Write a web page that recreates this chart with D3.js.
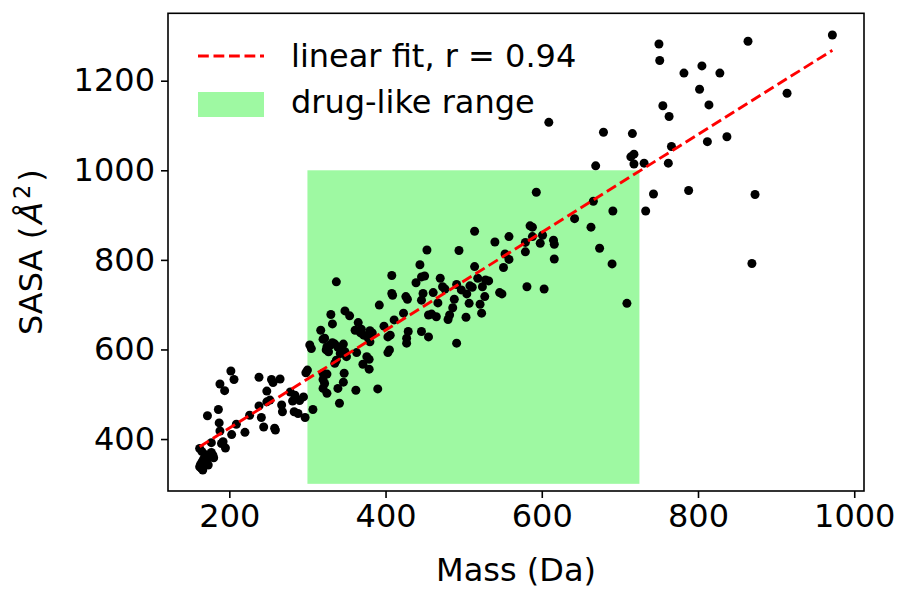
<!DOCTYPE html>
<html>
<head>
<meta charset="utf-8">
<script src="https://cdn.jsdelivr.net/npm/d3@7"></script>
<style>
  body { margin: 0; background: #fff; }
  svg text { font-family: "DejaVu Sans", sans-serif; fill: #000; }
</style>
</head>
<body>
<svg width="899" height="592"></svg>
<script>
// molecules: mass (Da) and solvent accessible surface area
const mass = [
  750, 751, 864, 972, 782, 805, 828, 802, 755, 763, 814, 914, 837, 812, 766, 731, 762, 788, 743, 873, 733, 869,
  609, 679, 716, 714, 718, 718, 669, 593, 666, 691, 642, 663, 601, 598, 615, 616, 674, 616, 690, 603, 709,
  585, 588, 588, 579, 581, 514, 558, 540, 579, 453, 494, 553, 558, 551, 514, 518, 528, 532, 524, 527, 508, 511,
  504, 497, 491, 470, 450, 446, 444, 473, 476, 461, 448, 446, 488, 486, 507, 521, 523, 503, 482, 480, 467, 455,
  459, 465, 455, 446, 491, 546, 549,
  337, 408, 439, 408, 409, 426, 428, 392, 423, 411, 398, 406, 403, 429, 427, 427, 348, 354, 330, 332, 365, 361,
  369, 368, 372, 380, 383, 378, 380, 317, 320, 322, 303, 305, 325, 329, 332, 335, 324, 327, 339, 344, 346, 342,
  348, 350, 337, 335, 363, 376, 379, 371, 379, 405, 403, 300, 298, 320, 325, 320, 322, 320, 325, 347, 346, 339,
  341, 362, 390, 307, 295,
  278, 284, 281, 290, 283, 288, 297,
  202, 206, 188, 194, 238, 254, 256, 265, 248, 172, 186, 187, 188, 192, 195, 190, 203, 209, 220, 226, 238, 241,
  244, 259, 258, 248, 252, 267, 268, 165, 169, 165, 162, 166, 171, 175, 179, 173, 169, 162, 177, 163, 164, 167,
  170, 177, 180
]
const sasa = [
  1282, 1245, 1288, 1302, 1217, 1233, 1217, 1181, 1144, 1120, 1146, 1172, 1075, 1064, 1053, 1016, 1016, 955, 947, 946, 909, 792,
  1107, 1085, 1082, 1030, 1036, 1014, 1010, 951, 931, 909, 892, 873, 855, 837, 844, 835, 826, 802, 791, 735, 703,
  876, 873, 852, 818, 740, 864, 852, 840, 839, 822, 821, 813, 801, 783, 785, 759, 755, 753, 740, 718, 742, 739,
  724, 733, 745, 759, 764, 762, 789, 740, 735, 727, 725, 710, 712, 693, 703, 701, 681, 672, 677, 667, 704, 677,
  679, 673, 628, 640, 614, 727, 724,
  751, 765, 749, 725, 721, 718, 712, 699, 681, 666, 652, 632, 628, 640, 625, 614, 686, 675, 678, 657, 660, 643,
  645, 637, 632, 642, 637, 625, 617, 643, 623, 625, 610, 602, 606, 610, 615, 612, 599, 595, 605, 602, 612, 591,
  595, 584, 576, 569, 593, 584, 578, 567, 556, 599, 593, 554, 548, 547, 545, 533, 524, 513, 502, 547, 527, 513,
  480, 509, 512, 466, 494,
  505, 498, 485, 486, 461, 457, 448,
  552, 533, 523, 508, 538, 533, 526, 534, 507, 452, 466, 436, 418, 394, 380, 390, 410, 433, 415, 453, 474, 448,
  427, 420, 424, 483, 487, 476, 461, 372, 360, 349, 338, 331, 353, 360, 364, 342, 346, 379, 392, 343, 335, 355,
  365, 370, 358
]

// linear fit end points, r = 0.94
const fitMass = [162, 972]
const fitSasa = [383, 1268]

// drug-like window
const rangeMass = [300, 725]
const rangeSasa = [300, 1000]

const xTicks = [200, 400, 600, 800, 1000]
const yTicks = [400, 600, 800, 1000, 1200]

const plotL = 168, plotT = 13.3, plotR = 864, plotB = 491
const fontSize = 32

const svg = d3.select('svg')

const x = d3.scaleLinear().domain([121.5, 1012.5]).range([plotL, plotR])
const y = d3.scaleLinear().domain([284, 1350.5]).range([plotB, plotT])

// green window
svg.append('rect')
  .attr('x', x(rangeMass[0]))
  .attr('y', y(rangeSasa[1]))
  .attr('width', x(rangeMass[1]) - x(rangeMass[0]))
  .attr('height', y(rangeSasa[0]) - y(rangeSasa[1]))
  .attr('fill', '#9ef9a2')

// points
svg.append('g')
  .selectAll('circle')
  .data(mass)
  .enter()
  .append('circle')
  .attr('cx', (d) => x(d))
  .attr('cy', (d, i) => y(sasa[i]))
  .attr('r', 4.5)
  .attr('fill', '#000')

// fit line
svg.append('line')
  .attr('x1', x(fitMass[0])).attr('y1', y(fitSasa[0]))
  .attr('x2', x(fitMass[1])).attr('y2', y(fitSasa[1]))
  .attr('stroke', 'red')
  .attr('stroke-width', 2.9)
  .attr('stroke-dasharray', '10.8,4.7')

// axes
const xAxis = svg.append('g')
  .attr('transform', `translate(0, ${plotB})`)
  .call(d3.axisBottom(x).tickValues(xTicks).tickSize(7).tickPadding(6).tickFormat(d3.format('d')))
const yAxis = svg.append('g')
  .attr('transform', `translate(${plotL}, 0)`)
  .call(d3.axisLeft(y).tickValues(yTicks).tickSize(7).tickPadding(6).tickFormat(d3.format('d')))

;[xAxis, yAxis].forEach((a) => {
  a.select('.domain').remove()
  a.selectAll('line').attr('stroke', '#000').attr('stroke-width', 1.6)
  a.selectAll('text').attr('font-size', fontSize).attr('font-family', '"DejaVu Sans", sans-serif').attr('fill', '#000')
})

// frame
svg.append('rect')
  .attr('x', plotL).attr('y', plotT)
  .attr('width', plotR - plotL).attr('height', plotB - plotT)
  .attr('fill', 'none')
  .attr('stroke', '#000')
  .attr('stroke-width', 1.6)

// axis titles
svg.append('text')
  .attr('x', (plotL + plotR) / 2)
  .attr('y', 581)
  .attr('text-anchor', 'middle')
  .attr('font-size', fontSize)
  .text('Mass (Da)')

const yl = svg.append('text')
  .attr('transform', `translate(42, ${(plotT + plotB) / 2}) rotate(-90)`)
  .attr('text-anchor', 'middle')
  .attr('font-size', fontSize)
yl.append('tspan').text('SASA (')
yl.append('tspan').attr('font-style', 'italic').attr('dx', 3).text('Å')
yl.append('tspan').attr('font-size', fontSize * 0.7).attr('dx', 3).attr('dy', -12).text('2')
yl.append('tspan').attr('dx', 3).attr('dy', 12).text(')')

// legend
svg.append('line')
  .attr('x1', 198).attr('x2', 264)
  .attr('y1', 56).attr('y2', 56)
  .attr('stroke', 'red')
  .attr('stroke-width', 2.9)
  .attr('stroke-dasharray', '10.8,4.7')
svg.append('rect')
  .attr('x', 198).attr('y', 92)
  .attr('width', 66).attr('height', 25)
  .attr('fill', '#9ef9a2')
svg.append('text')
  .attr('x', 291).attr('y', 67)
  .attr('font-size', fontSize)
  .text('linear fit, r = 0.94')
svg.append('text')
  .attr('x', 291).attr('y', 113)
  .attr('font-size', fontSize)
  .text('drug-like range')
</script>
</body>
</html>
